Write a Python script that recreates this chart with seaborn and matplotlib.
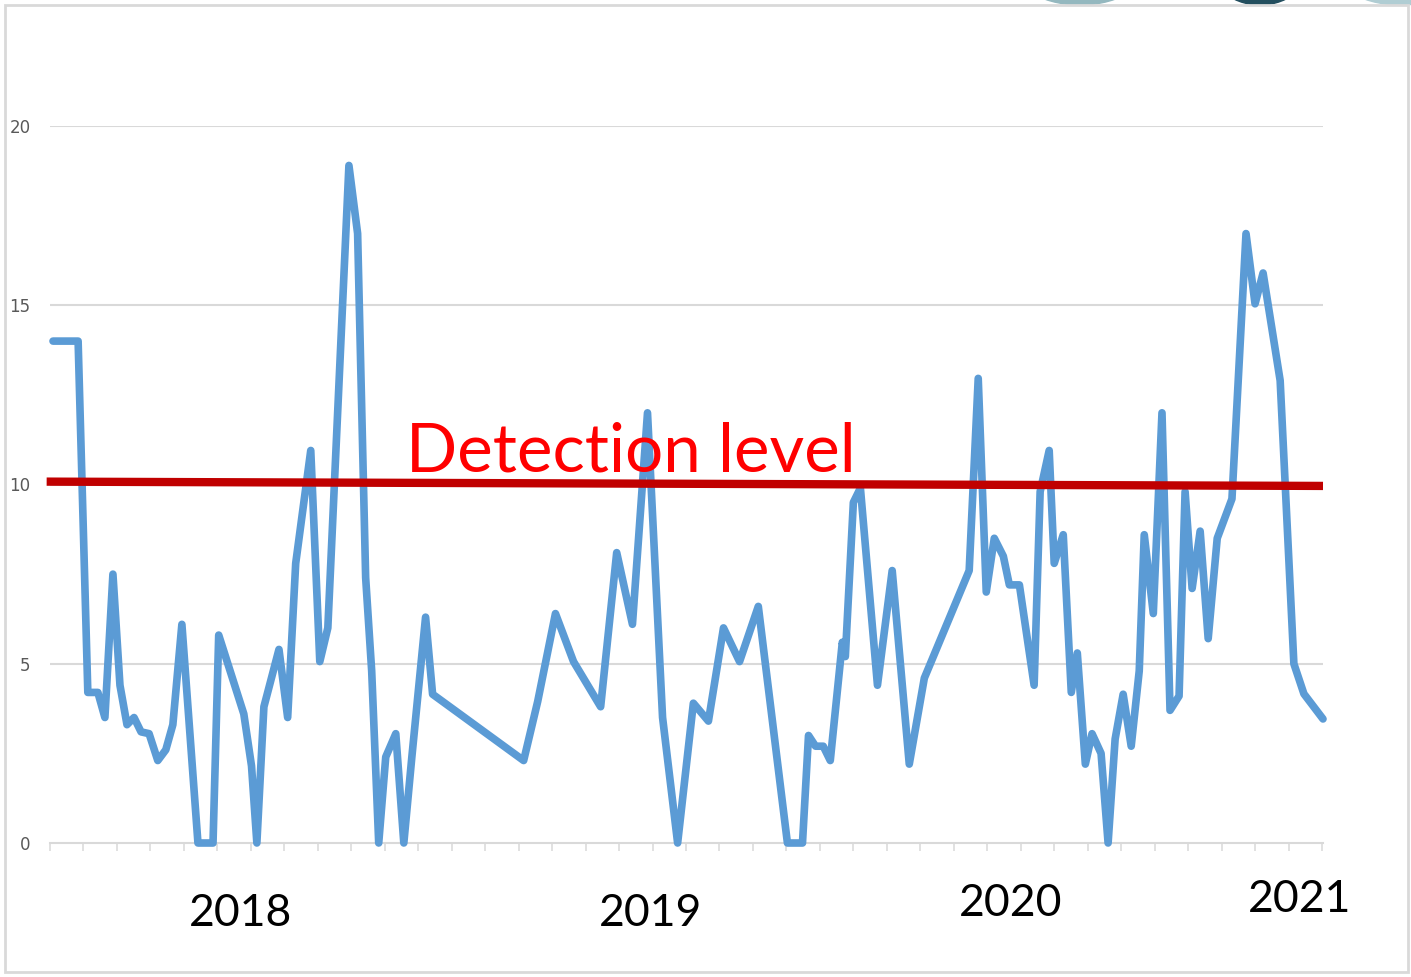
import seaborn as sns
import matplotlib.pyplot as plt
import pandas as pd
from matplotlib.patches import Rectangle, Ellipse

# sample position (in tick intervals along the time axis) and measured value
sample_pos = [
    0.09, 0.84, 1.13, 1.43, 1.64, 1.88, 2.09, 2.30, 2.51, 2.72, 2.96, 3.22, 3.46, 3.67,
    3.94, 4.42, 4.87, 5.04, 5.79, 6.02, 6.18, 6.39, 6.84, 7.10, 7.34, 7.79, 8.06, 8.30,
    8.93, 9.19, 9.43, 9.61, 9.82, 10.03, 10.33, 10.57, 10.81, 11.22, 11.43, 14.15, 14.57,
    15.10, 15.64, 16.45, 16.93, 17.40, 17.85, 18.30, 18.75, 19.22, 19.67, 20.12, 20.60,
    21.16, 22.03, 22.48, 22.66, 22.87, 23.10, 23.31, 23.67, 23.76, 24.00, 24.21, 24.72,
    25.16, 25.67, 26.12, 27.46, 27.73, 27.97, 28.21, 28.48, 28.66, 28.96, 29.40, 29.58,
    29.85, 30.00, 30.27, 30.51, 30.69, 30.93, 31.13, 31.40, 31.61, 31.82, 32.06, 32.30,
    32.54, 32.69, 32.96, 33.22, 33.46, 33.73, 33.91, 34.12, 34.36, 34.60, 34.87, 35.31,
    35.73, 36.00, 36.24, 36.75, 37.16, 37.46, 38.03,
]
values = [
    14.0, 14.0, 4.2, 4.2, 3.5, 7.5, 4.4, 3.3, 3.5, 3.1, 3.05, 2.3, 2.6, 3.3,
    6.1, 0.0, 0.0, 5.8, 3.6, 2.15, 0.0, 3.8, 5.4, 3.5, 7.8, 10.95, 5.06, 6.0,
    18.9, 17.0, 7.4, 4.8, 0.0, 2.4, 3.05, 0.0, 2.4, 6.3, 4.15, 2.3, 3.95,
    6.4, 5.06, 3.8, 8.1, 6.1, 12.0, 3.5, 0.0, 3.9, 3.4, 6.0, 5.06,
    6.6, 0.0, 0.0, 3.0, 2.7, 2.7, 2.3, 5.6, 5.2, 9.5, 9.9, 4.4,
    7.6, 2.2, 4.6, 7.6, 12.96, 7.0, 8.5, 8.0, 7.2, 7.2, 4.4, 9.8,
    10.95, 7.8, 8.6, 4.2, 5.3, 2.2, 3.05, 2.5, 0.0, 2.9, 4.15, 2.7,
    4.8, 8.6, 6.4, 12.0, 3.7, 4.1, 9.8, 7.1, 8.7, 5.7, 8.5, 9.6,
    17.0, 15.04, 15.9, 12.9, 5.0, 4.16, 3.46,
]

detection_level = [10.08, 9.96]   # drawn slightly tilted in the original
year_labels = ['2018', '2019', '2020', '2021']
year_pos = [5.70, 17.94, 28.69, 37.34]
y_ticks = [0, 5, 10, 15, 20]

df = pd.DataFrame({'pos': sample_pos, 'value': values})

sns.set_theme(style="white")
plt.rcParams['font.family'] = ['Lato', 'DejaVu Sans']

fig = plt.figure(figsize=(14.11, 9.77), dpi=100)
ax = fig.add_axes([50 / 1411, 1 - 843 / 977, 1273 / 1411, 717 / 977])

for v in y_ticks[1:]:
    ax.axhline(v, color='#d9d9d9', lw=1.5, zorder=0)

sns.lineplot(data=df, x='pos', y='value', ax=ax, color='#5b9bd5', lw=5.5,
             solid_joinstyle='round', solid_capstyle='round', zorder=3, clip_on=False)

ax.plot([-0.1, 38.03], detection_level, color='#c00000', lw=6, zorder=4,
        solid_capstyle='butt', clip_on=False)
ax.text(10.63, 10.35, 'Detection level', color='#ff0000', fontsize=48.5,
        ha='left', va='baseline', zorder=5)

ax.set_xlim(0, 38.03)
ax.set_ylim(0, 20)
ax.set_yticks(y_ticks)
ax.set_yticklabels([str(t) for t in y_ticks], color='#595959', fontsize=12,
                   family=['Liberation Sans Narrow', 'DejaVu Sans'])
ax.tick_params(axis='y', length=0, pad=14)
ax.set_xticks(range(39))
ax.set_xticklabels([''] * 39)
ax.tick_params(axis='x', length=6, width=1.2, color='#dcdcdc', direction='out',
               bottom=True)
ax.set_xlabel('')
ax.set_ylabel('')
for side in ['top', 'right', 'left']:
    ax.spines[side].set_visible(False)
ax.spines['bottom'].set_color('#d9d9d9')
ax.spines['bottom'].set_linewidth(1.5)

for lbl, x, y in zip(year_labels, year_pos, [-0.098, -0.098, -0.085, -0.079]):
    ax.text(x, y, lbl, transform=ax.get_xaxis_transform(), ha='center',
            va='center', fontsize=32, color='black')

# slide frame and partial logo at top right
fig.patches.append(Rectangle((5 / 1411, 5 / 977), 1403 / 1411, 967 / 977,
                             transform=fig.transFigure, fill=False,
                             edgecolor='#d9d9d9', lw=2, zorder=2))
for cx, w, col in [(1080, 150, '#94b8bf'), (1260, 110, '#234f5f'), (1400, 150, '#b0cdd3')]:
    e = Ellipse((cx / 1411, 1 + 45 / 977), w / 1411, 100 / 977,
                transform=fig.transFigure, color=col, zorder=1)
    fig.patches.append(e)
for cx in [1180, 1340]:
    fig.patches.append(Ellipse((cx / 1411, 1 + 40 / 977), 70 / 1411, 100 / 977,
                               transform=fig.transFigure, color='white', zorder=1.5))

fig.savefig('out.png', dpi=100)
